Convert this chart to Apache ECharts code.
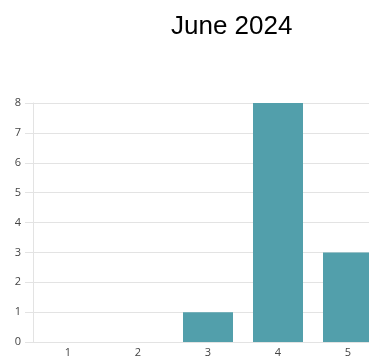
<!DOCTYPE html>
<html>
<head>
<meta charset="utf-8">
<script src="https://cdn.jsdelivr.net/npm/echarts@6/dist/echarts.min.js"></script>
<style>
  html, body { margin: 0; padding: 0; background: #fff; overflow: hidden; width: 369px; height: 358px; }
  #chart { width: 383px; height: 358px; }
</style>
</head>
<body>
<div id="chart"></div>
<script>
// Counts per category for the month
const titleText = 'June 2024';
const categories = ['1', '2', '3', '4', '5'];
const counts = [0, 0, 1, 8, 3];
const yTicks = [0, 1, 2, 3, 4, 5, 6, 7, 8];

const chart = echarts.init(document.getElementById('chart'), null, { renderer: 'canvas' });

chart.setOption({
  animation: false,
  title: {
    text: titleText,
    left: 166,
    top: 9,
    textStyle: {
      fontFamily: 'Liberation Sans, Arial, sans-serif',
      fontSize: 26,
      fontWeight: 'normal',
      color: '#000'
    }
  },
  grid: {
    left: 33,
    top: 103,
    right: 0,
    bottom: 15,
    containLabel: false
  },
  xAxis: {
    type: 'category',
    data: categories,
    axisLine: { show: false },
    axisTick: { show: false },
    axisLabel: {
      fontFamily: 'Open Sans, sans-serif',
      fontSize: 11,
      color: '#444',
      margin: 5
    }
  },
  yAxis: {
    type: 'value',
    min: yTicks[0],
    max: yTicks[yTicks.length - 1],
    interval: 1,
    axisLine: { show: true, lineStyle: { color: '#e3e3e3' } },
    axisTick: { show: true, length: 8, lineStyle: { color: '#e3e3e3' } },
    splitLine: { show: true, lineStyle: { color: '#e3e3e3' } },
    axisLabel: {
      fontFamily: 'Open Sans, sans-serif',
      fontSize: 11,
      color: '#444',
      margin: 12
    }
  },
  series: [{
    type: 'bar',
    data: counts,
    barWidth: 50,
    itemStyle: {
      color: '#529fab'
    }
  }]
});
</script>
</body>
</html>
